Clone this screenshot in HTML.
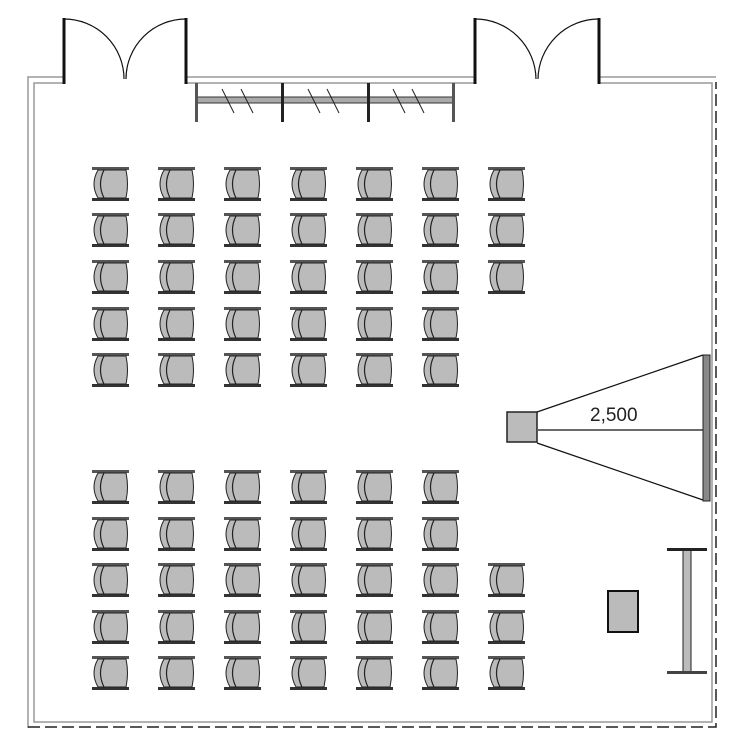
<!DOCTYPE html>
<html><head><style>body{margin:0;background:#fff}svg{display:block}</style></head><body>
<svg width="750" height="750" viewBox="0 0 750 750" xmlns="http://www.w3.org/2000/svg">
<defs>
<g id="c">
<rect x="2" y="0" width="37" height="3" fill="#555"/>
<rect x="2" y="31" width="37" height="3" fill="#333"/>
<path d="M8 3 Q0 17 8 31 L36 31 Q39 17 36 3 Z" fill="#bbb" stroke="#222" stroke-width="1"/>
<path d="M14 3 Q7 17 14 31" fill="none" stroke="#222" stroke-width="1.2"/>
</g>
</defs>
<g fill="none" stroke="#999" stroke-width="1.5">
<path d="M63 77 H28 V728"/>
<path d="M63 83 H34 V722 H712 V83 H600"/>
<path d="M600 77 H716"/>
<path d="M186 77 H474 M186 83 H474"/>
</g>
<g fill="none" stroke="#222" stroke-width="1.5" stroke-dasharray="12 5">
<path d="M28 727 H716 V82"/>
</g>
<g stroke="#111" stroke-width="3" fill="none">
<path d="M64 84 V18 M186 84 V18 M475 84 V18 M599 84 V18"/>
</g>
<g stroke="#111" stroke-width="1.2" fill="none">
<path d="M64 19 A60 60 0 0 1 124 79 M186 19 A60 60 0 0 0 126 79"/>
<path d="M475 19 A61 61 0 0 1 536 79 M599 19 A61 61 0 0 0 538 79"/>
</g>
<g>
<rect x="196" y="97" width="258" height="6" fill="#aaa" stroke="#333" stroke-width="1"/>
<rect x="195" y="83" width="3" height="39" fill="#555"/>
<rect x="281" y="83" width="3" height="39" fill="#222"/>
<rect x="367" y="83" width="3" height="39" fill="#222"/>
<rect x="452" y="83" width="3" height="39" fill="#555"/>
<g stroke="#222" stroke-width="1">
<path d="M222 89 L234 113 M241 89 L253 113 M308 89 L320 113 M327 89 L339 113 M393 89 L405 113 M412 89 L424 113"/>
</g>
</g>
<g>
<use href="#c" x="90" y="167"/><use href="#c" x="156" y="167"/><use href="#c" x="222" y="167"/><use href="#c" x="288" y="167"/><use href="#c" x="354" y="167"/><use href="#c" x="420" y="167"/><use href="#c" x="486" y="167"/>
<use href="#c" x="90" y="213"/><use href="#c" x="156" y="213"/><use href="#c" x="222" y="213"/><use href="#c" x="288" y="213"/><use href="#c" x="354" y="213"/><use href="#c" x="420" y="213"/><use href="#c" x="486" y="213"/>
<use href="#c" x="90" y="260"/><use href="#c" x="156" y="260"/><use href="#c" x="222" y="260"/><use href="#c" x="288" y="260"/><use href="#c" x="354" y="260"/><use href="#c" x="420" y="260"/><use href="#c" x="486" y="260"/>
<use href="#c" x="90" y="307"/><use href="#c" x="156" y="307"/><use href="#c" x="222" y="307"/><use href="#c" x="288" y="307"/><use href="#c" x="354" y="307"/><use href="#c" x="420" y="307"/>
<use href="#c" x="90" y="353"/><use href="#c" x="156" y="353"/><use href="#c" x="222" y="353"/><use href="#c" x="288" y="353"/><use href="#c" x="354" y="353"/><use href="#c" x="420" y="353"/>
<use href="#c" x="90" y="470"/><use href="#c" x="156" y="470"/><use href="#c" x="222" y="470"/><use href="#c" x="288" y="470"/><use href="#c" x="354" y="470"/><use href="#c" x="420" y="470"/>
<use href="#c" x="90" y="517"/><use href="#c" x="156" y="517"/><use href="#c" x="222" y="517"/><use href="#c" x="288" y="517"/><use href="#c" x="354" y="517"/><use href="#c" x="420" y="517"/>
<use href="#c" x="90" y="563"/><use href="#c" x="156" y="563"/><use href="#c" x="222" y="563"/><use href="#c" x="288" y="563"/><use href="#c" x="354" y="563"/><use href="#c" x="420" y="563"/><use href="#c" x="486" y="563"/>
<use href="#c" x="90" y="610"/><use href="#c" x="156" y="610"/><use href="#c" x="222" y="610"/><use href="#c" x="288" y="610"/><use href="#c" x="354" y="610"/><use href="#c" x="420" y="610"/><use href="#c" x="486" y="610"/>
<use href="#c" x="90" y="656"/><use href="#c" x="156" y="656"/><use href="#c" x="222" y="656"/><use href="#c" x="288" y="656"/><use href="#c" x="354" y="656"/><use href="#c" x="420" y="656"/><use href="#c" x="486" y="656"/>
</g>
<rect x="507" y="412" width="30" height="30" fill="#bbb" stroke="#222" stroke-width="1.5"/>
<g stroke="#111" stroke-width="1.2">
<line x1="537" y1="412" x2="703" y2="355"/>
<line x1="537" y1="443" x2="703" y2="500"/>
<line x1="538" y1="430" x2="703" y2="430"/>
</g>
<rect x="703" y="355" width="7" height="146" fill="#888" stroke="#222" stroke-width="1"/>
<text x="590" y="421" font-family="Liberation Sans, sans-serif" font-size="19" fill="#222">2,500</text>
<rect x="608" y="591" width="30" height="41" fill="#bbb" stroke="#111" stroke-width="2"/>
<rect x="683" y="550" width="8" height="122" fill="#bbb" stroke="#222" stroke-width="1"/>
<rect x="667" y="548" width="40" height="3" fill="#222"/>
<rect x="667" y="671" width="40" height="3" fill="#444"/>
</svg>
</body></html>
